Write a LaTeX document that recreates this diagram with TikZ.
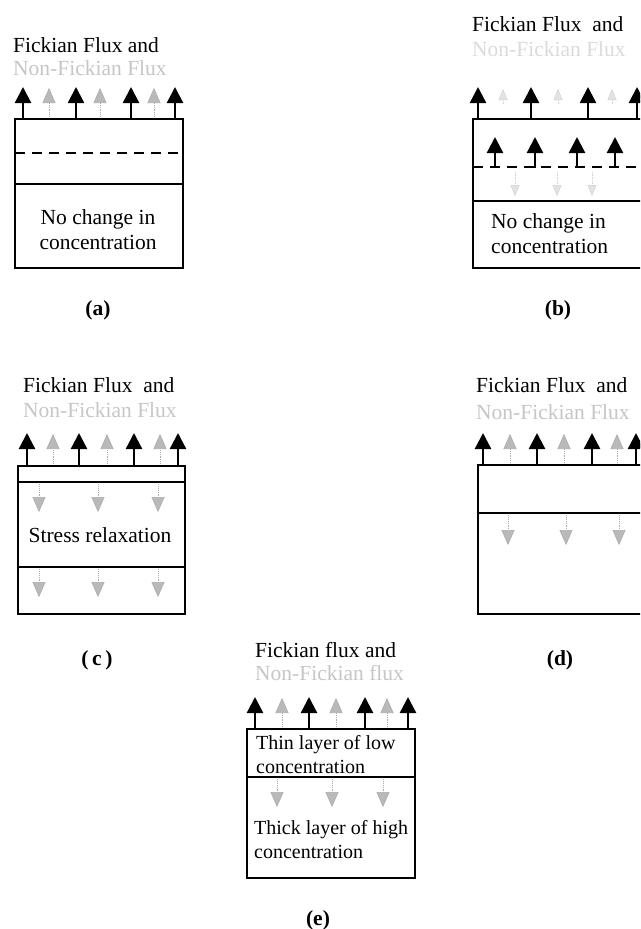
\documentclass[tikz,border=0pt]{standalone}
\usepackage{fontspec}
\setmainfont{Liberation Serif}
\usetikzlibrary{arrows.meta}
\begin{document}
\begin{tikzpicture}[x=1pt,y=-1pt,
  fick/.style={line width=2.4pt,-{Triangle[width=16pt,length=16pt]}},
  nonfick/.style={line width=0.9pt,gray!65,densely dotted,-{Triangle[width=13pt,length=15pt,fill=gray!55,color=gray!65,line width=0.6pt]}},
  faintfick/.style={line width=0.6pt,gray!35,densely dotted,-{Triangle[width=9pt,length=11pt,fill=gray!22,color=gray!35,line width=0.5pt]}},
  boxline/.style={draw,line width=2pt},
  divider/.style={line width=2pt},
  dashline/.style={line width=2pt,dash pattern=on 10pt off 7pt},
  title/.style={anchor=west,inner sep=0pt,font=\fontsize{21.5}{25}\selectfont},
  gtitle/.style={title,text=gray!45},
  ftitle/.style={title,text=gray!28},
  body/.style={inner sep=0pt,font=\fontsize{21.5}{25}\selectfont},
  ebody/.style={inner sep=0pt,font=\fontsize{20}{24}\selectfont},
  lab/.style={inner sep=0pt,font=\fontsize{21.5}{25}\selectfont\bfseries}
]
\fill[white] (0,0) rectangle (640,929);
\clip (0,0) rectangle (640,929);

% ---------------- (a) ----------------
\node[title] (ta1) at (13,45) {Fickian Flux and};
\node[gtitle] (ta2) at (13,68) {Non-Fickian Flux};
\node[boxline,minimum width=168pt,minimum height=149pt,inner sep=0pt,anchor=north west] (boxa) at (14,118) {};
\coordinate (a-dl) at (15,153); \coordinate (a-dr) at (181,153);
\draw[dashline] (a-dl) -- (a-dr);
\coordinate (a-sl) at (14,184); \coordinate (a-sr) at (182,184);
\draw[divider] (a-sl) -- (a-sr);
\node[body,align=center] (texta) at (98,230) {No change in\\concentration};
\foreach \x in {23,76,131,175}{
  \coordinate (a-fb\x) at (\x,118); \coordinate (a-ft\x) at (\x,87);
  \draw[fick] (a-fb\x) -- (a-ft\x);}
\foreach \x in {49,100,154}{
  \coordinate (a-nb\x) at (\x,117); \coordinate (a-nt\x) at (\x,88);
  \draw[nonfick] (a-nb\x) -- (a-nt\x);}
\node[lab] (laba) at (98,310) {(a)};

% ---------------- (b) ----------------
\node[title] (tb1) at (472,24) {Fickian Flux\ \ and};
\node[ftitle] (tb2) at (472,49) {Non-Fickian Flux};
\node[boxline,minimum width=200pt,minimum height=149pt,inner sep=0pt,anchor=north west] (boxb) at (472,118) {};
\coordinate (b-dl) at (473,167); \coordinate (b-dr) at (640,167);
\draw[dashline] (b-dl) -- (b-dr);
\coordinate (b-sl) at (472,201); \coordinate (b-sr) at (672,201);
\draw[divider] (b-sl) -- (b-sr);
\node[body,align=left,anchor=west] (textb) at (491,234) {No change in\\concentration};
\foreach \x in {478,531,588,637}{
  \coordinate (b-fb\x) at (\x,118); \coordinate (b-ft\x) at (\x,87);
  \draw[fick] (b-fb\x) -- (b-ft\x);}
\foreach \x in {503,558,612}{
  \coordinate (b-nb\x) at (\x,104); \coordinate (b-nt\x) at (\x,89);
  \draw[faintfick] (b-nb\x) -- (b-nt\x);}
\foreach \x in {495,535,577,615}{
  \coordinate (b-ib\x) at (\x,168); \coordinate (b-it\x) at (\x,137);
  \draw[fick] (b-ib\x) -- (b-it\x);}
\foreach \x in {515,557,592}{
  \coordinate (b-db\x) at (\x,172); \coordinate (b-dt\x) at (\x,196);
  \draw[faintfick] (b-db\x) -- (b-dt\x);}
\node[lab] (labb) at (558,310) {(b)};

% ---------------- (c) ----------------
\node[title] (tc1) at (23,385) {Fickian Flux\ \ and};
\node[gtitle] (tc2) at (23,410) {Non-Fickian Flux};
\node[boxline,minimum width=167pt,minimum height=148pt,inner sep=0pt,anchor=north west] (boxc) at (17,465) {};
\coordinate (c-s1l) at (17,482); \coordinate (c-s1r) at (184,482);
\draw[divider] (c-s1l) -- (c-s1r);
\coordinate (c-s2l) at (17,567); \coordinate (c-s2r) at (184,567);
\draw[divider] (c-s2l) -- (c-s2r);
\node[body] (textc) at (100,535) {Stress relaxation};
\foreach \x in {27,79,134,178}{
  \coordinate (c-fb\x) at (\x,465); \coordinate (c-ft\x) at (\x,433);
  \draw[fick] (c-fb\x) -- (c-ft\x);}
\foreach \x in {53,107,160}{
  \coordinate (c-nb\x) at (\x,464); \coordinate (c-nt\x) at (\x,434);
  \draw[nonfick] (c-nb\x) -- (c-nt\x);}
\foreach \x in {39,98,158}{
  \coordinate (c-db\x) at (\x,484); \coordinate (c-dt\x) at (\x,512);
  \draw[nonfick] (c-db\x) -- (c-dt\x);
  \coordinate (c-eb\x) at (\x,569); \coordinate (c-et\x) at (\x,597);
  \draw[nonfick] (c-eb\x) -- (c-et\x);}
\node[lab] (labc) at (97,660) {(\,c\,)};

% ---------------- (d) ----------------
\node[title] (td1) at (476,385) {Fickian Flux\ \ and};
\node[gtitle] (td2) at (476,412) {Non-Fickian Flux};
\node[boxline,minimum width=200pt,minimum height=149pt,inner sep=0pt,anchor=north west] (boxd) at (477,464) {};
\coordinate (d-sl) at (477,513); \coordinate (d-sr) at (677,513);
\draw[divider] (d-sl) -- (d-sr);
\foreach \x in {483,537,592,636}{
  \coordinate (d-fb\x) at (\x,464); \coordinate (d-ft\x) at (\x,433);
  \draw[fick] (d-fb\x) -- (d-ft\x);}
\foreach \x in {510,564,617}{
  \coordinate (d-nb\x) at (\x,463); \coordinate (d-nt\x) at (\x,434);
  \draw[nonfick] (d-nb\x) -- (d-nt\x);}
\foreach \x in {508,566,619}{
  \coordinate (d-db\x) at (\x,515); \coordinate (d-dt\x) at (\x,545);
  \draw[nonfick] (d-db\x) -- (d-dt\x);}
\node[lab] (labd) at (560,660) {(d)};

% ---------------- (e) ----------------
\node[title] (te1) at (255,650) {Fickian flux and};
\node[gtitle] (te2) at (255,673) {Non-Fickian flux};
\node[boxline,minimum width=168pt,minimum height=149pt,inner sep=0pt,anchor=north west] (boxe) at (246,728) {};
\coordinate (e-sl) at (246,777); \coordinate (e-sr) at (414,777);
\draw[divider] (e-sl) -- (e-sr);
\node[ebody,align=left,anchor=west] (texte1) at (256,755) {Thin layer of low\\concentration};
\node[ebody,align=left,anchor=west] (texte2) at (254,840) {Thick layer of high\\concentration};
\foreach \x in {255,309,365,408}{
  \coordinate (e-fb\x) at (\x,728); \coordinate (e-ft\x) at (\x,697);
  \draw[fick] (e-fb\x) -- (e-ft\x);}
\foreach \x in {282,336,387}{
  \coordinate (e-nb\x) at (\x,727); \coordinate (e-nt\x) at (\x,698);
  \draw[nonfick] (e-nb\x) -- (e-nt\x);}
\foreach \x in {277,332,383}{
  \coordinate (e-db\x) at (\x,779); \coordinate (e-dt\x) at (\x,807);
  \draw[nonfick] (e-db\x) -- (e-dt\x);}
\node[lab] (labe) at (318,920) {(e)};
\end{tikzpicture}
\end{document}
